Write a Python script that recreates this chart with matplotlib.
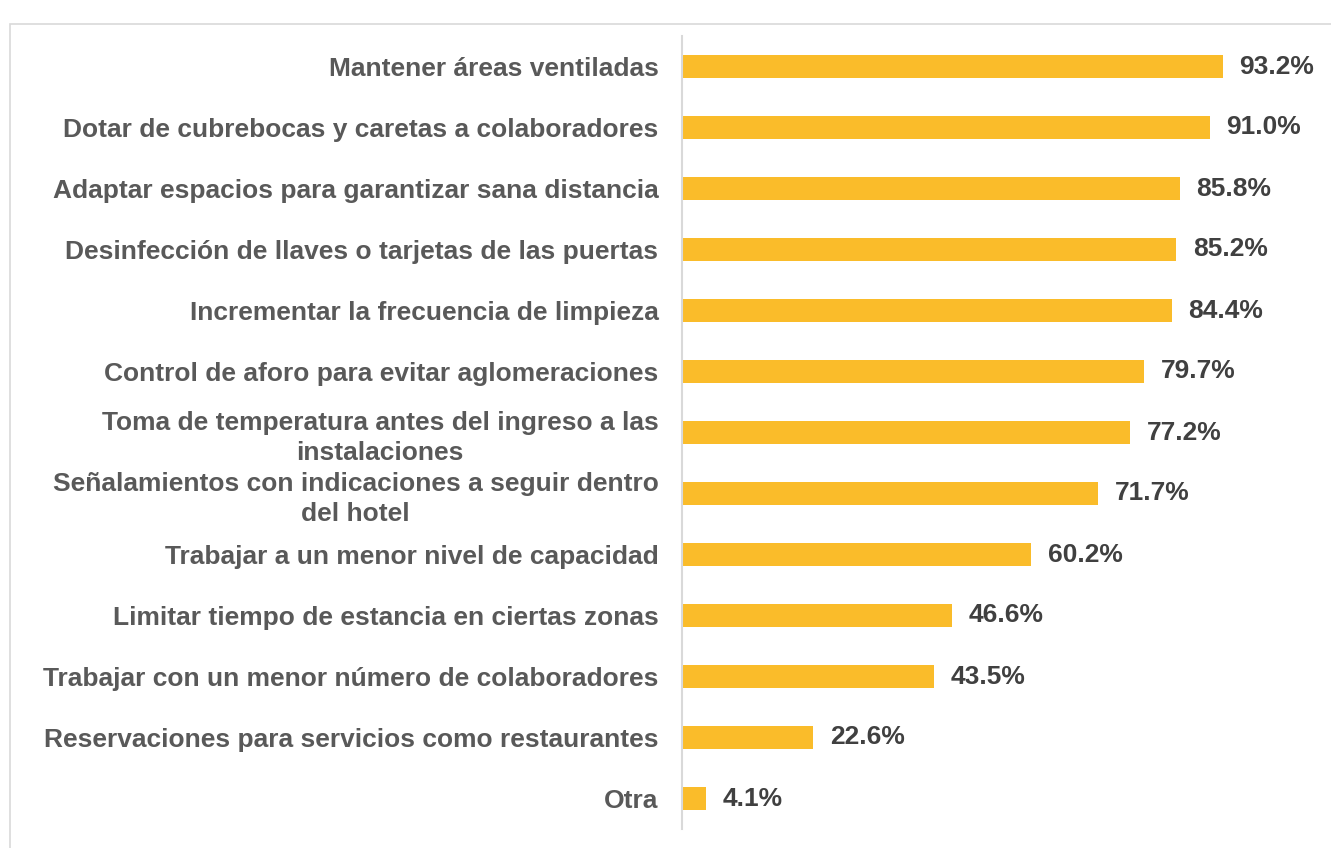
import matplotlib
matplotlib.use("Agg")
import matplotlib.pyplot as plt
from matplotlib.patches import Rectangle

# data (top to bottom)
categorias = [
    "Mantener áreas ventiladas",
    "Dotar de cubrebocas y caretas a colaboradores",
    "Adaptar espacios para garantizar sana distancia",
    "Desinfección de llaves o tarjetas de las puertas",
    "Incrementar la frecuencia de limpieza",
    "Control de aforo para evitar aglomeraciones",
    "Toma de temperatura antes del ingreso a las\ninstalaciones",
    "Señalamientos con indicaciones a seguir dentro\ndel hotel",
    "Trabajar a un menor nivel de capacidad",
    "Limitar tiempo de estancia en ciertas zonas",
    "Trabajar con un menor número de colaboradores",
    "Reservaciones para servicios como restaurantes",
    "Otra",
]
porcentajes = [93.2, 91.0, 85.8, 85.2, 84.4, 79.7, 77.2, 71.7, 60.2, 46.6, 43.5, 22.6, 4.1]

plt.rcParams['font.family'] = ['Liberation Sans', 'DejaVu Sans']

fig = plt.figure(figsize=(13.31, 8.48), dpi=100)
# light frame around the chart area
fig.patches.append(Rectangle((10 / 1331, -0.5), 2, 0.5 + 1 - 24 / 848,
                             transform=fig.transFigure, fill=False,
                             edgecolor="#D9D9D9", linewidth=1.2))

ax = fig.add_axes([682 / 1331, 1 - 829 / 848, 580 / 1331, 793 / 848])

pos = list(range(len(categorias)))
ax.barh(pos, porcentajes, height=0.38, color="#FABC2A")

for y, v in zip(pos, porcentajes):
    ax.text(v + 2.9, y, f"{v:.1f}%", va="center", ha="left",
            fontsize=19, fontweight="bold", color="#404040")

ax.set_xlim(0, 100)
ax.set_ylim(len(categorias) - 0.5, -0.5)
ax.set_yticks(pos)
ax.set_yticklabels(categorias, fontsize=19, fontweight="bold", color="#595959",
                   multialignment="center", linespacing=1.3)
ax.tick_params(axis="y", length=0, pad=17)
ax.set_xticks([])

for s in ["top", "right", "bottom"]:
    ax.spines[s].set_visible(False)
ax.spines["left"].set_color("#D9D9D9")
ax.spines["left"].set_linewidth(1.5)

fig.savefig("out.png", dpi=100)
